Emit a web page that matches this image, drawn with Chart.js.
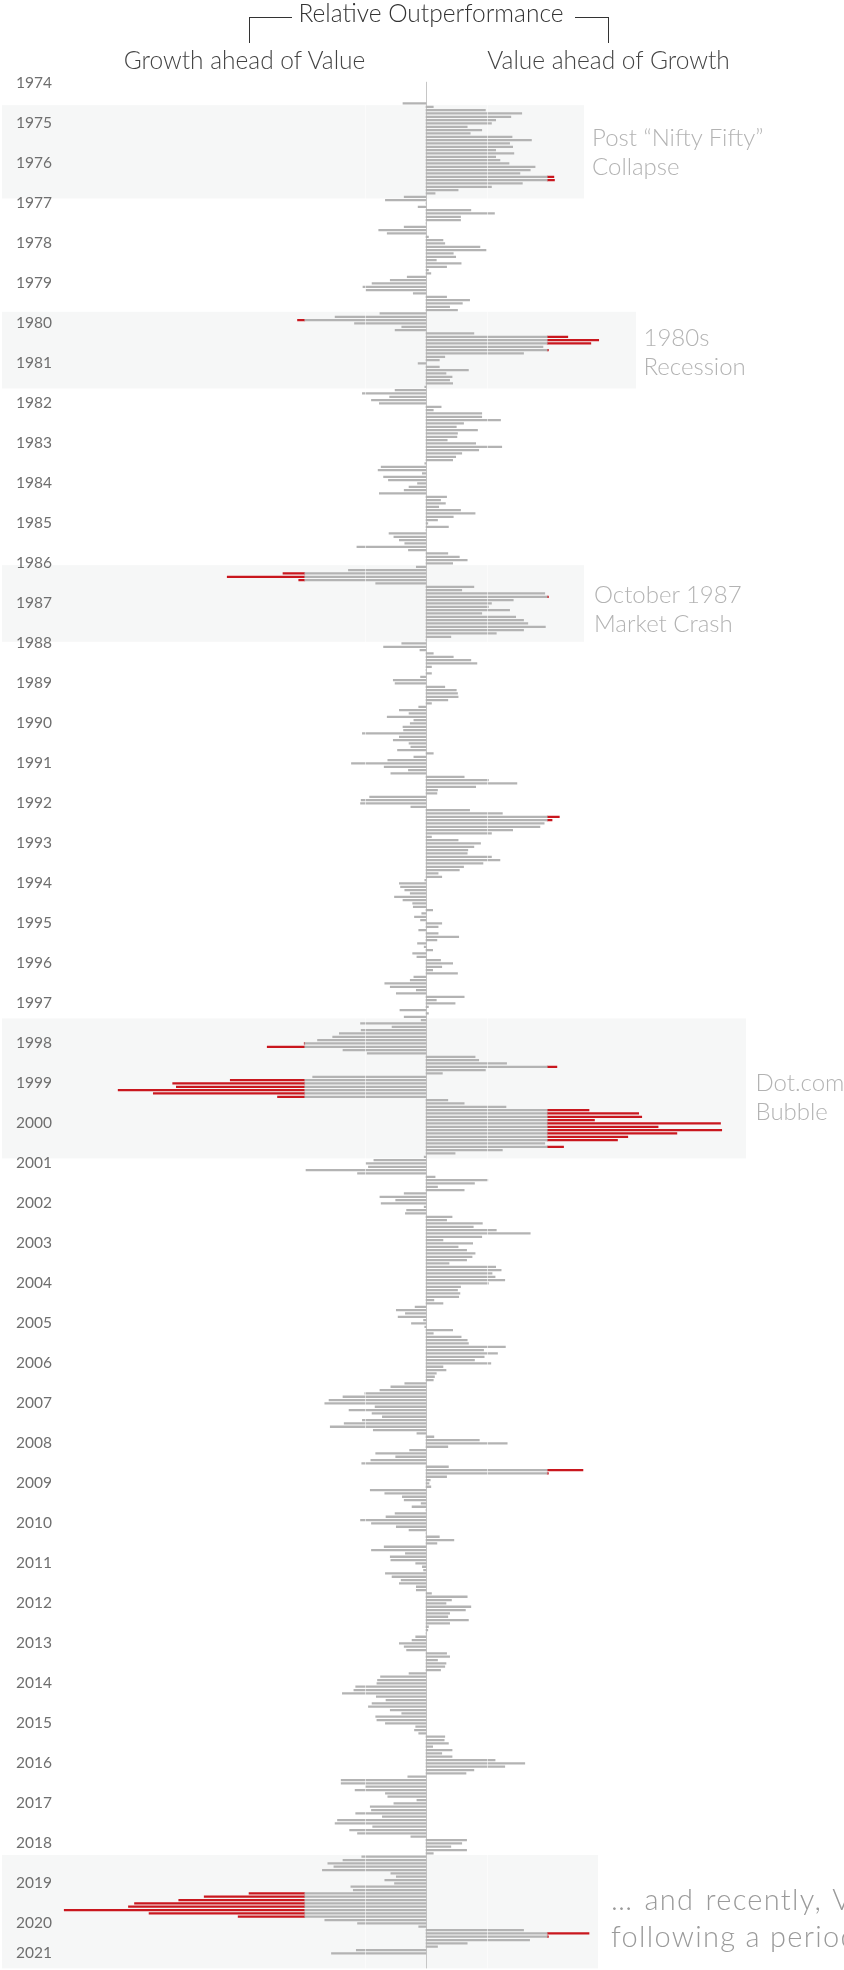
<!DOCTYPE html>
<html>
<head>
<meta charset="utf-8">
<script src="https://cdn.jsdelivr.net/npm/chart.js@4.4.0/dist/chart.umd.min.js"></script>
<style>
  body { margin: 0; background: #fff; }
  #wrap { position: relative; width: 844px; height: 1970px; overflow: hidden; font-family: Lato, "Open Sans", sans-serif; }
  #wrap canvas { position: absolute; left: 0; top: 0; }
  .txt { position: absolute; white-space: nowrap; line-height: 1; font-weight: 300; }
  .brk { position: absolute; border-color: #333; border-style: solid; border-width: 0; }
</style>
</head>
<body>
<div id="wrap">
  <canvas id="myChart" width="844" height="1970"></canvas>
  <div class="brk" style="left:249px; top:17px; width:42px; height:25px; border-top-width:1.5px; border-left-width:1.5px;"></div>
  <div class="brk" style="left:575px; top:17px; width:33px; height:25px; border-top-width:1.5px; border-right-width:1.5px;"></div>
</div>
<script>
// Относительная доходность Value vs Growth, помесячно, с июля 1974 по октябрь 2020 (%)
// положительное значение -- Value впереди, отрицательное -- Growth впереди
const firstDataMonth = 6  // июль 1974 (индекс от января 1974)
const relPerf = [
  -3.8, 1.2, 9.8, 15.8, 14.0, 11.5,                                   // 1974 (июль-дек)
  10.8, 6.8, 9.2, 7.3, 14.2, 17.4, 13.8, 14.3, 11.5, 14.5, 11.5, 12.2,  // 1975
  13.7, 18.0, 17.2, 15.5, 21.1, 21.2, 15.9, 10.8, 5.3, 1.5, -3.6, -6.7, // 1976
  0, -1.3, 7.4, 11.3, 5.7, 5.7, 0, -3.6, -7.8, -6.4, 0.4, 2.8,          // 1977
  3.1, 8.9, 9.9, 4.5, 4.9, 1.7, 5.8, 3.4, 0.4, 0.8, -3.1, -5.9,         // 1978
  -8.9, -10.4, -9.9, -2.1, 3.4, 7.2, 6.0, 3.9, 5.2, -7.6, -15.0, -21.2, // 1979
  -11.8, -4.0, -5.1, 7.9, 23.4, 28.5, 27.2, 19.3, 20.2, 16.1, 3.1, 2.2, // 1980
  -1.3, 2.2, 7.0, 3.3, 4.3, 3.9, 4.4, -0.2, -5.1, -10.5, -6.0, -9.0,    // 1981
  -7.7, 2.5, 1.2, 9.2, 9.2, 12.3, 6.2, 5.0, 8.5, 5.2, 5.1, 3.5,         // 1982
  8.2, 12.5, 8.7, 5.9, 4.9, 4.4, -0.2, -7.4, -7.9, -0.6, -7.0, -6.2,    // 1983
  -1.4, -2.8, -3.6, -7.7, 3.4, 2.4, 3.2, 2.1, 5.7, 8.1, 4.5, 1.9,       // 1984
  0.3, 3.7, 0, -6.1, -5.3, -4.4, -3.5, -11.4, -2.9, 3.6, 5.5, 6.8,      // 1985
  4.4, -1.6, -12.8, -23.6, -32.8, -21.0, -8.3, 7.9, 5.9, 19.6, 20.2, 14.4, // 1986
  10.8, 10.3, 13.8, 9.2, 14.8, 16.1, 16.8, 19.7, 16.1, 11.6, 4.1, 0,    // 1987
  -4.0, -7.0, -1.0, 1.2, 4.5, 7.4, 8.4, 0.9, 0, 0.9, -0.9, -5.4,        // 1988
  -5.1, 3.1, 5.0, 5.2, 5.3, 3.6, 0.9, -1.2, -4.4, -2.8, -6.4, -2.0,     // 1989
  -2.6, -3.8, -3.7, -10.5, -4.4, -5.4, -2.8, -2.5, -4.7, 1.2, -2.0, -6.3, // 1990
  -12.3, -6.9, -2.9, -5.8, 6.3, 10.3, 15.0, 8.2, 1.9, 1.8, -9.3, -10.7, // 1991
  -10.8, -2.5, 7.2, 12.6, 22.0, 20.8, 19.5, 18.8, 14.3, 10.8, 0.9, 5.3, // 1992
  9.0, 7.9, 6.9, 6.8, 10.8, 12.2, 9.4, 6.2, 5.5, 2.0, 2.6, -0.2,        // 1993
  -4.4, -4.2, -3.5, -2.6, -5.2, -3.8, -2.2, -2.1, 1.1, -0.7, -1.9, -0.9, // 1994
  2.6, 2.0, -1.2, 2.0, 5.4, 1.8, -1.4, -0.3, 1.1, -2.2, -1.5, 2.4,      // 1995
  4.4, 2.6, 1.1, 5.2, -2.0, -2.6, -6.8, -5.9, -1.6, -4.9, 6.3, 1.7,     // 1996
  4.8, 0.4, -4.3, 0.4, -3.6, -0.8, -10.8, -5.6, -10.7, -14.3, -15.4, -17.9, // 1997
  -20.1, -26.2, -13.7, -9.7, 8.1, 8.7, 13.3, 21.6, 9.8, 2.7, -18.7, -32.3,  // 1998
  -41.8, -41.2, -50.8, -45.0, -24.5, 3.6, 6.3, 13.2, 26.9, 35.1, 35.6, 27.8, // 1999
  48.6, 38.3, 48.8, 41.4, 33.3, 31.6, 19.6, 22.7, 12.6, 4.8, -0.3, -8.6, // 2000
  -9.9, -9.5, -19.8, -11.3, 1.5, 10.2, 8.0, 1.9, 6.3, -3.6, -7.6, -5.0, // 2001
  -7.4, -0.3, -3.2, -3.4, 4.3, 3.4, 9.3, 7.8, 11.6, 17.2, 9.2, 2.8,     // 2002
  7.7, 5.3, 6.7, 8.1, 7.6, 6.7, 3.8, 11.5, 12.4, 10.9, 11.4, 13.0,      // 2003
  10.3, 5.7, 5.2, 5.6, 5.4, 1.3, 2.8, -1.8, -4.9, -3.4, -4.6, -0.4,     // 2004
  -2.4, -0.2, 4.4, 1.2, 5.8, 6.8, 7.0, 13.1, 9.5, 11.8, 9.6, 8.0,       // 2005
  10.7, 2.8, 3.3, 1.7, 1.4, 1.2, -3.5, -5.8, -7.6, -10.1, -13.7, -16.0, // 2006
  -16.7, -8.4, -12.7, -8.9, -7.2, -10.5, -13.5, -15.8, -8.7, -1.5, 1.3, 8.8, // 2007
  13.4, 3.6, -2.7, -8.3, -5.0, -9.1, -10.6, 3.7, 25.9, 20.2, 3.4, 0.7,  // 2008
  0.5, 0.8, -9.2, -6.8, -3.9, -3.6, -0.8, -2.3, 0, -5.1, -6.6, -10.8,   // 2009
  -9.0, -4.9, -2.8, 0, 2.2, 4.6, 1.8, -6.9, -9.0, -3.4, -5.9, -5.8,     // 2010
  -1.7, -0.6, -0.4, -6.7, -5.6, -4.1, -4.4, -1.6, -1.6, 0.9, 6.8, 4.2,  // 2011
  3.3, 7.4, 6.5, 3.9, 3.6, 7.0, 3.9, 0.4, 0.3, 0, -1.7, -2.3,           // 2012
  -4.4, -3.6, -3.2, 3.4, 3.9, 1.9, 3.3, 3.1, 2.4, -2.8, -7.5, -8.0,     // 2013
  -8.1, -11.6, -11.9, -13.8, -8.2, -6.6, -8.9, -9.5, -5.9, -4.0, -8.3, -8.1, // 2014
  -6.7, -1.7, -1.9, -1.2, 3.1, 3.0, 3.7, 1.1, 4.3, 2.6, 4.3, 11.4,      // 2015
  16.3, 13.0, 7.9, 6.6, -3.0, -14.0, -14.0, -10.0, -11.7, -6.7, -6.3, -1.5, // 2016
  -5.3, -9.2, -9.0, -11.6, -7.2, -14.6, -15.0, -8.8, -12.6, -11.3, -2.5, 6.7, // 2017
  5.9, 4.1, 6.7, 1.2, -10.6, -13.7, -16.2, -15.2, -17.1, -5.8, -4.9, -6.8, // 2018
  -5.2, -12.4, -12.0, -29.2, -36.6, -40.8, -48.1, -49.1, -59.7, -45.7, -31.0, -16.7, // 2019
  -11.3, -1.2, 16.1, 26.9, 20.2, 17.1, 6.8, 1.9, -11.5, -15.6           // 2020 (янв-окт)
]

// подписи лет слева
const yearLabels = ['1974', '1975', '1976', '1977', '1978', '1979', '1980', '1981', '1982', '1983',
  '1984', '1985', '1986', '1987', '1988', '1989', '1990', '1991', '1992', '1993', '1994', '1995',
  '1996', '1997', '1998', '1999', '2000', '2001', '2002', '2003', '2004', '2005', '2006', '2007',
  '2008', '2009', '2010', '2011', '2012', '2013', '2014', '2015', '2016', '2017', '2018', '2019',
  '2020', '2021']

// выделенные периоды (первый и последний месяц)
const periodStart = ['1974-08', '1979-10', '1986-02', '1997-06', '2018-05']
const periodEnd = ['1976-11', '1981-08', '1987-12', '2000-11', '2021-02']

// выше этого уровня столбик красный
const redLimit = 20

// --- дальше только оформление ---

const monthNames = ['Jan', 'Feb', 'Mar', 'Apr', 'May', 'Jun', 'Jul', 'Aug', 'Sep', 'Oct', 'Nov', 'Dec']
const axisMonths = 12 * 47 + 2 // январь 1974 .. февраль 2021
let categories = []
for (let k = 0; k < axisMonths; k++) {
  categories.push(monthNames[k % 12] + ' ' + (1974 + Math.floor(k / 12)))
}
function monthIndex(s) {
  let [yy, mm] = s.split('-').map(Number)
  return (yy - 1974) * 12 + mm - 1
}
const lastDataIndex = firstDataMonth + relPerf.length - 1

let values = categories.map((c, k) => {
  let v = relPerf[k - firstDataMonth]
  return v === undefined ? null : v
})
let grayPart = values.map(v => v === null ? null : Math.max(-redLimit, Math.min(redLimit, v)))
let redPart = values.map(v => (v === null || Math.abs(v) <= redLimit) ? null : v - Math.sign(v) * redLimit)

// где стоит подпись года (последнюю прижимаем к концу данных)
let tickText = {}
yearLabels.forEach((y, n) => { tickText[Math.min(n * 12, lastDataIndex)] = y })

const shadeRight = [584, 636, 584, 746, 598]

const backdrop = {
  id: 'backdrop',
  beforeDraw(chart) {
    let {ctx, scales: {y}} = chart
    let step = y.getPixelForValue(1) - y.getPixelForValue(0)
    ctx.save()
    ctx.fillStyle = '#f6f7f7'
    periodStart.forEach((p, n) => {
      let top = y.getPixelForValue(monthIndex(p)) - step / 2
      let bottom = y.getPixelForValue(monthIndex(periodEnd[n])) + step / 2
      ctx.fillRect(2, top, shadeRight[n] - 2, bottom - top)
    })
    ctx.restore()
  },
  beforeDatasetsDraw(chart) {
    let {ctx, chartArea, scales: {x}} = chart
    let x0 = Math.round(x.getPixelForValue(0)) + 0.5
    ctx.save()
    ctx.strokeStyle = '#c6c6c6'
    ctx.lineWidth = 1
    ctx.beginPath()
    ctx.moveTo(x0, chartArea.top)
    ctx.lineTo(x0, chartArea.bottom)
    ctx.stroke()
    ctx.restore()
  },
  afterDatasetsDraw(chart) {
    // тонкие светлые швы на барах
    let {ctx, chartArea, scales: {x}} = chart
    ctx.save()
    ctx.strokeStyle = 'rgba(255,255,255,0.55)'
    ctx.lineWidth = 1
    ;[-redLimit / 2, redLimit / 2].forEach(v => {
      let px = Math.round(x.getPixelForValue(v)) + 0.5
      ctx.beginPath()
      ctx.moveTo(px, chartArea.top)
      ctx.lineTo(px, chartArea.bottom)
      ctx.stroke()
    })
    ctx.restore()
  }
}

let ctx = document.getElementById('myChart').getContext('2d')
let chart = new Chart(ctx, {
  type: 'bar',
  data: {
    labels: categories,
    datasets: [
      { data: grayPart, backgroundColor: '#b3b3b3', barThickness: 1.6, borderWidth: 0 },
      { data: redPart, backgroundColor: '#c9171e', barThickness: 1.6, borderWidth: 0 }
    ]
  },
  options: {
    indexAxis: 'y',
    responsive: false,
    devicePixelRatio: 1,
    animation: false,
    layout: { padding: { left: 16, right: 54.4, top: 81.8, bottom: 1.6 } },
    plugins: { legend: { display: false }, tooltip: { enabled: false } },
    scales: {
      x: { stacked: true, min: -60, max: 60, display: false },
      y: {
        stacked: true,
        grid: { display: false },
        border: { display: false },
        ticks: {
          autoSkip: false,
          crossAlign: 'far',
          padding: 0,
          color: '#6f6f6f',
          font: { family: 'Lato', size: 15.5 },
          callback: (val, index) => tickText[index] || ''
        },
        afterFit(scale) {
          scale.width = 46.4
          scale.paddingTop = 0
          scale.paddingBottom = 0
        }
      }
    }
  },
  plugins: [backdrop]
})

// надписи: заголовок и комментарии к периодам
const notes = [
  { lines: ['Relative Outperformance'], x: 431, base: 22.7, size: 24.5, color: '#333', align: 'center' },
  { lines: ['Growth ahead of Value'], x: 244.5, base: 70, size: 24.5, color: '#444', align: 'center' },
  { lines: ['Value ahead of Growth'], x: 608.5, base: 70, size: 24.5, color: '#444', align: 'center' },
  { lines: ['Post “Nifty Fifty”', 'Collapse'], x: 592, base: 146.7, gap: 28.5, size: 24, color: '#b3b3b3' },
  { lines: ['1980s', 'Recession'], x: 643.5, base: 346.7, gap: 28.5, size: 24, color: '#b3b3b3' },
  { lines: ['October 1987', 'Market Crash'], x: 594, base: 603.3, gap: 28.5, size: 24, color: '#b3b3b3' },
  { lines: ['Dot.com', 'Bubble'], x: 755.5, base: 1091.7, gap: 28.5, size: 24, color: '#b3b3b3' },
  { lines: ['… and  recently, Value', 'following a period'], x: 611, base: 1909.3, gap: 37.4, size: 29, color: '#9a9a9a', spacing: 1.3, wordSpacing: 2 }
]
let wrap = document.getElementById('wrap')
notes.forEach(n => {
  n.lines.forEach((line, j) => {
    let d = document.createElement('div')
    d.className = 'txt'
    d.textContent = line
    d.style.fontSize = n.size + 'px'
    d.style.color = n.color
    d.style.top = (n.base + j * (n.gap || 0) - 0.887 * n.size) + 'px'
    if (n.spacing) d.style.letterSpacing = n.spacing + 'px'
    if (n.wordSpacing && j === 0) d.style.wordSpacing = n.wordSpacing + 'px'
    if (n.align === 'center') {
      d.style.left = (n.x - 300) + 'px'
      d.style.width = '600px'
      d.style.textAlign = 'center'
    } else {
      d.style.left = n.x + 'px'
    }
    wrap.appendChild(d)
  })
})
</script>
</body>
</html>
